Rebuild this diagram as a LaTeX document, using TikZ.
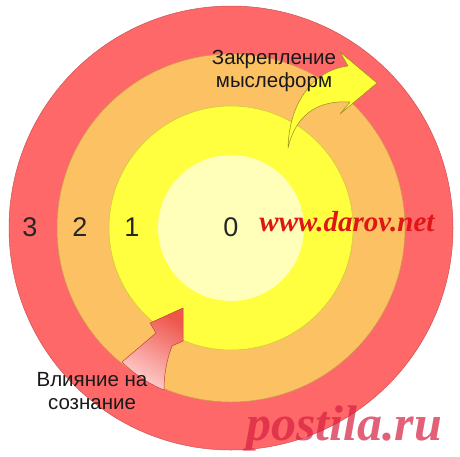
\documentclass[tikz,border=0pt]{standalone}
\usepackage{fontspec}
\setmainfont{Liberation Sans}
\newfontfamily\siteface{Liberation Serif}
\definecolor{ringred}{RGB}{255,104,104}
\definecolor{ringorange}{RGB}{251,193,98}
\definecolor{ringyellow}{RGB}{255,255,64}
\definecolor{corelight}{RGB}{255,255,186}
\definecolor{sitered}{RGB}{222,22,22}
\definecolor{markred}{RGB}{214,30,62}
\definecolor{tipred}{RGB}{238,86,76}

\begin{document}
\begin{tikzpicture}[x=1pt,y=-1pt,
    ring/.style={fill=#1,draw=#1!80!black,line width=0.5pt},
    level/.style={font=\fontsize{27}{27}\selectfont,text=black!85,inner sep=0pt},
    caption/.style={align=center,font=\fontsize{20.5}{23.5}\selectfont,text=black!90,inner sep=0pt},
    blockarrow/.style={line width=0.5pt,line join=round}
  ]
  \useasboundingbox (0,0) rectangle (460,456);
  \coordinate (o) at (231,228);
  \draw[ring=ringred] (o) circle (222pt);
  \draw[ring=ringorange] (o) circle (174pt);
  \draw[ring=ringyellow] (o) circle (122pt);
  \fill[corelight] (o) circle (73pt);

  \shade[blockarrow,draw=tipred!80!black,top color=tipred,bottom color=ringred!30,shading angle=-30]
    (122,362) -- (156,333) -- (150,323) -- (183,308) -- (183,341) -- (172,346)
    .. controls (166,362) and (164,376) .. (164,390)
    .. controls (149,384) and (134,374) .. (122,362) -- cycle;
  \filldraw[blockarrow,draw=olive!70!yellow!80!black,fill=ringyellow!90!yellow]
    (288,148) .. controls (289,102) and (314,70) .. (348,66) -- (340,52) -- (377,83)
    -- (340,114) -- (350,102) .. controls (318,100) and (296,114) .. (288,148) -- cycle;

  \node[level] (three) at (30,227) {3};
  \node[level] (two) at (80,227) {2};
  \node[level] (one) at (132,227) {1};
  \node[level] (zero) at (231,227) {0};
  \node[caption] (fix) at (274,71) {Закрепление\\мыслеформ};
  \node[caption] (influence) at (92,391) {Влияние на\\сознание};
  \node[font=\siteface\bfseries\itshape\fontsize{29}{29}\selectfont,text=sitered,inner sep=0pt] (site) at (347,222) {www.darov.net};
  \node[font=\siteface\bfseries\itshape\fontsize{50}{50}\selectfont,text=markred,opacity=0.7,inner sep=0pt,anchor=base] (mark) at (344,440) {postila.ru};
\end{tikzpicture}
\end{document}
